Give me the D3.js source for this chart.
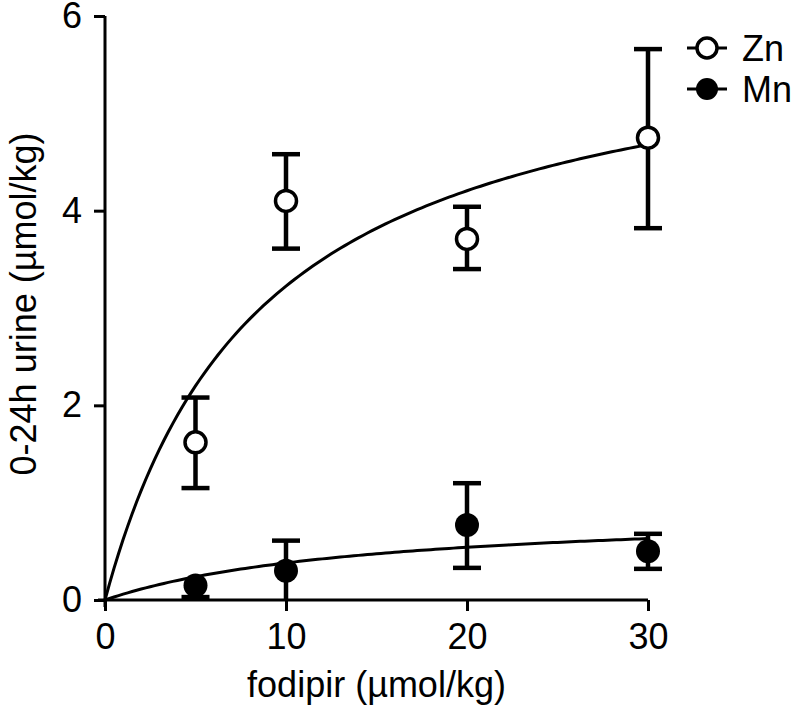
<!DOCTYPE html>
<html>
<head>
<meta charset="utf-8">
<script src="https://cdn.jsdelivr.net/npm/d3@7"></script>
<style>
  body { margin: 0; background: #fff; }
  text { font-family: Arial, "Liberation Sans", sans-serif; fill: #000; }
</style>
</head>
<body>
<div id="chart"></div>
<script>
// dose (µmol/kg)
var doses = [5, 10, 20, 30];

// Zn, 0-24h urine
var znMean = [1.62, 4.10, 3.71, 4.75];
var znLow  = [1.15, 3.61, 3.40, 3.82];
var znHigh = [2.08, 4.58, 4.04, 5.66];

// Mn, 0-24h urine
var mnMean = [0.15, 0.30, 0.77, 0.50];
var mnLow  = [0.03, 0.00, 0.33, 0.32];
var mnHigh = [0.15, 0.61, 1.20, 0.68];

// hyperbolic fit: y = bmax * x / (kd + x)
var fitNames = ["Zn", "Mn"];
var fitBmax = [6.04, 0.94];
var fitKd = [8.73, 14.7];

var xTicks = [0, 10, 20, 30];
var yTicks = [0, 2, 4, 6];

var svgWidth = 795;
var svgHeight = 715;

var margin = {top: 16, right: 147, bottom: 115, left: 105};
var width = svgWidth - margin.left - margin.right;
var height = svgHeight - margin.top - margin.bottom;

var svg = d3.select("#chart")
  .append("svg")
  .attr("width", svgWidth)
  .attr("height", svgHeight);

var g = svg.append("g")
  .attr("transform", "translate(" + margin.left + "," + margin.top + ")");

var x = d3.scaleLinear().domain([0, 30]).range([0, width]);
var y = d3.scaleLinear().domain([0, 6]).range([height, 0]);

// axes
var xAxis = g.append("g")
  .attr("transform", "translate(0," + height + ")")
  .call(d3.axisBottom(x).tickValues(xTicks).tickFormat(d3.format("d"))
    .tickSize(11).tickPadding(12).tickSizeOuter(0));
var yAxis = g.append("g")
  .call(d3.axisLeft(y).tickValues(yTicks).tickFormat(d3.format("d"))
    .tickSize(11).tickPadding(12).tickSizeOuter(0));

[xAxis, yAxis].forEach(function(ax) {
  ax.select(".domain").attr("stroke", "#000").attr("stroke-width", 3);
  ax.selectAll(".tick line").attr("stroke", "#000").attr("stroke-width", 3);
  ax.selectAll(".tick text").style("font-size", "36px").attr("fill", "#000");
});
xAxis.select(".domain").attr("d", "M-7,0H" + width);
yAxis.select(".domain").attr("d", "M0," + (height + 7) + "V0");

// axis titles
svg.append("text")
  .attr("x", margin.left + width / 2)
  .attr("y", 697)
  .attr("text-anchor", "middle")
  .style("font-size", "36px")
  .text("fodipir (µmol/kg)");

svg.append("text")
  .attr("transform", "translate(36," + (margin.top + height / 2 - 4) + ") rotate(-90)")
  .attr("text-anchor", "middle")
  .style("font-size", "36px")
  .text("0-24h urine (µmol/kg)");

// fit curves
var line = d3.line().x(d => x(d[0])).y(d => y(d[1]));
fitNames.forEach(function(name, i) {
  var pts = d3.range(0, 30.01, 0.25).map(function(v) {
    return [v, fitBmax[i] * v / (fitKd[i] + v)];
  });
  g.append("path")
    .datum(pts)
    .attr("fill", "none")
    .attr("stroke", "#000")
    .attr("stroke-width", 3)
    .attr("d", line);
});

// error bars and points
function drawSeries(mean, low, high, filled) {
  var data = doses.map(function(d, i) {
    return {x: d, m: mean[i], lo: low[i], hi: high[i]};
  });
  var grp = g.append("g");
  var bars = grp.selectAll(".err").data(data).enter().append("g");
  bars.append("line")
    .attr("x1", d => x(d.x)).attr("x2", d => x(d.x))
    .attr("y1", d => y(d.lo)).attr("y2", d => y(d.hi))
    .attr("stroke", "#000").attr("stroke-width", 4.5);
  bars.filter(d => d.hi > d.m).append("line")
    .attr("x1", d => x(d.x) - 14).attr("x2", d => x(d.x) + 14)
    .attr("y1", d => y(d.hi)).attr("y2", d => y(d.hi))
    .attr("stroke", "#000").attr("stroke-width", 4.5);
  bars.filter(d => d.lo < d.m && d.lo > 0).append("line")
    .attr("x1", d => x(d.x) - 14).attr("x2", d => x(d.x) + 14)
    .attr("y1", d => y(d.lo)).attr("y2", d => y(d.lo))
    .attr("stroke", "#000").attr("stroke-width", 4.5);
  grp.selectAll("circle").data(data).enter().append("circle")
    .attr("cx", d => x(d.x))
    .attr("cy", d => y(d.m))
    .attr("r", filled ? 12 : 10.5)
    .attr("fill", filled ? "#000" : "#fff")
    .attr("stroke", "#000")
    .attr("stroke-width", filled ? 0 : 3.5);
}
drawSeries(znMean, znLow, znHigh, false);
drawSeries(mnMean, mnLow, mnHigh, true);

// legend
var legend = svg.append("g");
[["Zn", false, 48], ["Mn", true, 89]].forEach(function(l) {
  legend.append("line")
    .attr("x1", 687).attr("x2", 727)
    .attr("y1", l[2]).attr("y2", l[2])
    .attr("stroke", "#000").attr("stroke-width", 3);
  legend.append("circle")
    .attr("cx", 707).attr("cy", l[2])
    .attr("r", l[1] ? 11 : 10)
    .attr("fill", l[1] ? "#000" : "#fff")
    .attr("stroke", "#000")
    .attr("stroke-width", l[1] ? 0 : 3.5);
  legend.append("text")
    .attr("x", 742).attr("y", l[2] + 13)
    .style("font-size", "36px")
    .text(l[0]);
});
</script>
</body>
</html>
